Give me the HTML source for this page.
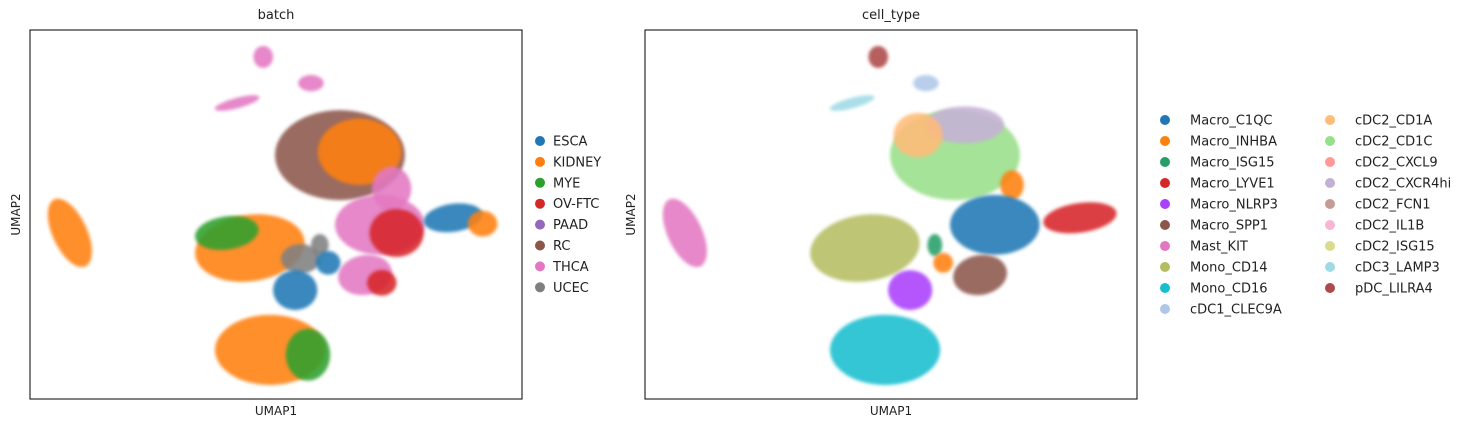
<!DOCTYPE html>
<html><head><meta charset="utf-8"><style>
body{margin:0;background:#fff;}
svg text{font-family:"DejaVu Sans","Liberation Sans",sans-serif;fill:#222;}
</style></head><body>
<svg id="fig" width="1473" height="429" viewBox="0 0 1473 429" xmlns="http://www.w3.org/2000/svg">
<defs><filter id="soft" x="-30%" y="-30%" width="160%" height="160%"><feGaussianBlur stdDeviation="1.6"/></filter></defs>
</svg>
<script>
// UMAP cluster data (domain 0..100 for both axes)
const cellTypes=["Macro_C1QC","Macro_INHBA","Macro_ISG15","Macro_LYVE1","Macro_NLRP3","Macro_SPP1","Mast_KIT","Mono_CD14","Mono_CD16","cDC1_CLEC9A","cDC2_CD1A","cDC2_CD1C","cDC2_CXCL9","cDC2_CXCR4hi","cDC2_FCN1","cDC2_IL1B","cDC2_ISG15","cDC3_LAMP3","pDC_LILRA4"];
const cellColors=['#1f77b4','#ff7f0e','#279e68','#d62728','#aa40fc','#8c564b','#e377c2','#b5bd61','#17becf','#aec7e8','#ffbb78','#98df8a','#ff9896','#c5b0d5','#c49c94','#f7b6d2','#dbdb8d','#9edae5','#ad494a'];
const batches=["ESCA","KIDNEY","MYE","OV-FTC","PAAD","RC","THCA","UCEC"];
const batchColors=['#1f77b4','#ff7f0e','#2ca02c','#d62728','#9467bd','#8c564b','#e377c2','#7f7f7f'];
// cell-type clusters: x, y, rx, ry, rotation, type index
const ctX=[47.4,57.1,42.1,63.0,65.0,55.5,74.6,71.1,88.4,8.1,44.7,58.9,60.6,68.1,53.9,48.8];
const ctY=[92.7,85.6,80.2,66.1,74.3,71.5,58.0,47.2,49.1,45.0,40.9,41.7,36.9,33.6,29.5,13.3];
const ctRX=[2.0,2.6,4.7,13.2,8,5,2.4,9.1,7.5,3.5,11.2,1.5,2,5.5,4.5,11.2];
const ctRY=[3.0,2.2,1.4,12.2,5,6,4,8.1,4,10,9,3,2.7,5.4,5.4,9.5];
const ctRot=[0,0,15,0,0,0,0,0,8,25,8,0,0,10,0,0];
const ctType=[18,9,17,11,13,10,1,0,3,6,7,2,1,5,4,8];
// batch clusters (same embedding): x, y, rx, ry, rotation, batch index
const bX=[47.4,57.1,42.1,63.0,67.0,73.5,71.1,74.5,86.0,92.0,8.1,44.7,40.0,55.0,58.9,60.6,68.1,71.5,53.9,48.8,56.5];
const bY=[92.7,85.6,80.2,66.1,67.0,57.0,47.2,45.0,49.1,47.5,45.0,40.9,45.0,38.0,41.7,36.9,33.6,31.5,29.5,13.3,12.0];
const bRX=[2.0,2.6,4.7,13.2,8.5,4,9.1,5.5,6,3,3.5,11.2,6.5,4,1.8,2.5,5.5,3,4.5,11.2,4.5];
const bRY=[3.0,2.2,1.4,12.2,9,6,8.1,6.5,3.8,3.5,10,9,4.5,4,3,3.2,5.4,3.5,5.4,9.5,7];
const bRot=[0,0,15,0,0,0,0,0,8,0,25,8,8,0,0,0,10,0,0,0,0];
const bBatch=[6,6,6,5,1,6,6,3,0,1,1,1,2,7,7,0,6,3,0,1,2];

const NS="http://www.w3.org/2000/svg";
const svg=document.getElementById('fig');
function mk(tag,attrs,parent){const e=document.createElementNS(NS,tag);for(const k in attrs)e.setAttribute(k,attrs[k]);(parent||svg).appendChild(e);return e;}

function panel(x0,title,xs,ys,rxs,rys,rots,idx,colors,name){
  const W=492,H=369,y0=30;
  const sx=v=>x0+v/100*W, sy=v=>y0+H-v/100*H;
  const g=mk('g',{});
  
  
  for(let i=0;i<xs.length;i++){
    const cx=sx(xs[i]),cy=sy(ys[i]);
    const e=mk('ellipse',{cx:cx,cy:cy,rx:rxs[i]/100*W,ry:rys[i]/100*H,fill:colors[idx[i]],'fill-opacity':0.88,filter:'url(#soft)',transform:`rotate(${-rots[i]} ${cx} ${cy})`},g);
    
    
  }
  const f=mk('rect',{x:x0,y:y0,width:W,height:H,fill:'none',stroke:'#000','stroke-width':1});
  
  
  const t=mk('text',{x:x0+W/2,y:19,'text-anchor':'middle','font-size':13});t.textContent=title;
  
  
  const xl=mk('text',{x:x0+W/2,y:415,'text-anchor':'middle','font-size':12});xl.textContent='UMAP1';
  
  
  const yl=mk('text',{x:0,y:0,'text-anchor':'middle','font-size':12,transform:`translate(${x0-10},${y0+H/2}) rotate(-90)`});yl.textContent='UMAP2';
  
  
}
panel(30,'batch',bX,bY,bRX,bRY,bRot,bBatch,batchColors,'batch');
panel(645,'cell_type',ctX,ctY,ctRX,ctRY,ctRot,ctType,cellColors,'cell-type');

function legendEntry(mx,tx,y,label,color){
  const g=mk('g',{});
  
  
  mk('circle',{cx:mx,cy:y,r:5,fill:color},g);
  const t=mk('text',{x:tx,y:y+4.5,'font-size':13},g);t.textContent=label;
}
batches.forEach((b,i)=>legendEntry(540,553,141+i*20.9,b,batchColors[i]));
cellTypes.forEach((c,i)=>{
  const col=i<10?0:1, r=i<10?i:i-10;
  legendEntry(col?1330:1165,col?1355:1190,120+r*21,c,cellColors[i]);
});
</script>
</body></html>
